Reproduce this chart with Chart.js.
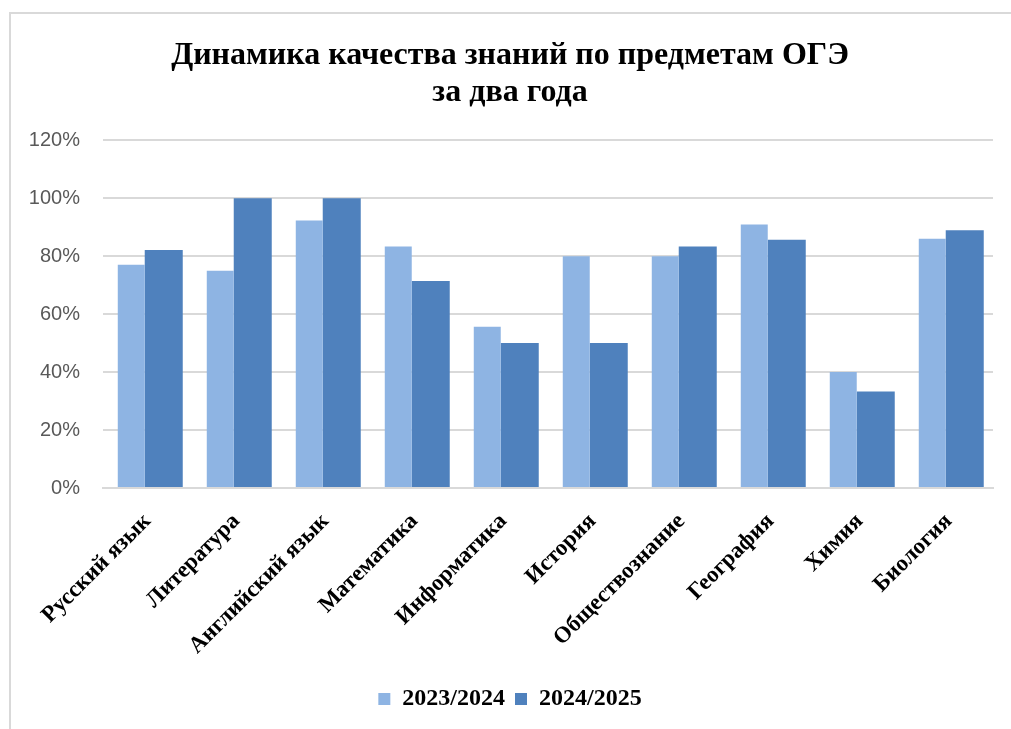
<!DOCTYPE html>
<html>
<head>
<meta charset="utf-8">
<script src="https://cdn.jsdelivr.net/npm/chart.js@4.4.1/dist/chart.umd.min.js"></script>
<style>
  html, body { margin: 0; padding: 0; background: #fff; overflow: hidden; }
  #wrap { position: relative; width: 1011px; height: 729px; overflow: hidden; }
  #frame { position: absolute; left: 9px; top: 12px; width: 1100px; height: 800px;
           border-left: 2px solid #d9d9d9; border-top: 2px solid #d9d9d9; }
  #c { position: absolute; left: 0; top: 0; }
</style>
</head>
<body>
<div id="wrap">
  <div id="frame"></div>
  <canvas id="c" width="1011" height="729"></canvas>
</div>
<script>
const titleLines = ['Динамика качества знаний по предметам ОГЭ', 'за два года'];
const categories = ['Русский язык', 'Литература', 'Английский язык', 'Математика', 'Информатика',
                    'История', 'Обществознание', 'География', 'Химия', 'Биология'];
const seriesNames = ['2023/2024', '2024/2025'];
const values2023 = [77, 75, 92.3, 83.3, 55.6, 80, 80, 90.9, 40, 86];
const values2024 = [82.1, 100, 100, 71.4, 50, 50, 83.3, 85.7, 33.3, 88.9];
const yMin = 0, yMax = 120, yStep = 20;

const serif = "'Liberation Serif', 'Times New Roman', serif";

new Chart(document.getElementById('c'), {
  type: 'bar',
  data: {
    labels: categories,
    datasets: [
      { label: seriesNames[0], data: values2023, backgroundColor: '#8EB4E3',
        barPercentage: 0.83, categoryPercentage: 0.73 },
      { label: seriesNames[1], data: values2024, backgroundColor: '#4F81BD',
        barPercentage: 1.17, categoryPercentage: 0.73 }
    ]
  },
  options: {
    responsive: false,
    animation: false,
    layout: { padding: { left: 27, right: 18, top: 37, bottom: 8 } },
    plugins: {
      title: {
        display: true, text: titleLines, color: '#000',
        font: { family: serif, size: 32, weight: 'bold', lineHeight: 1.16 },
        padding: { top: 0, bottom: 29 }
      },
      legend: {
        position: 'bottom',
        labels: {
          color: '#000', boxWidth: 12, boxHeight: 12, padding: 10,
          font: { family: serif, size: 24, weight: 'bold' }
        }
      },
      tooltip: { enabled: false }
    },
    scales: {
      x: {
        grid: { display: false, drawTicks: false },
        border: { display: true, color: '#d9d9d9', width: 2 },
        ticks: {
          color: '#000', maxRotation: 45, minRotation: 45, padding: 20, autoSkip: false,
          font: { family: serif, size: 23, weight: 'bold' }
        },
        afterFit: (s) => { s.height = 189; }
      },
      y: {
        min: yMin, max: yMax,
        grid: { color: '#d9d9d9', lineWidth: 2, drawTicks: false },
        border: { display: false },
        ticks: {
          stepSize: yStep, color: '#595959', padding: 23,
          font: { family: "'Liberation Sans', Arial, sans-serif", size: 20 },
          callback: (v) => v + '%'
        },
        afterFit: (s) => { s.width = 76; }
      }
    }
  }
});
</script>
</body>
</html>
